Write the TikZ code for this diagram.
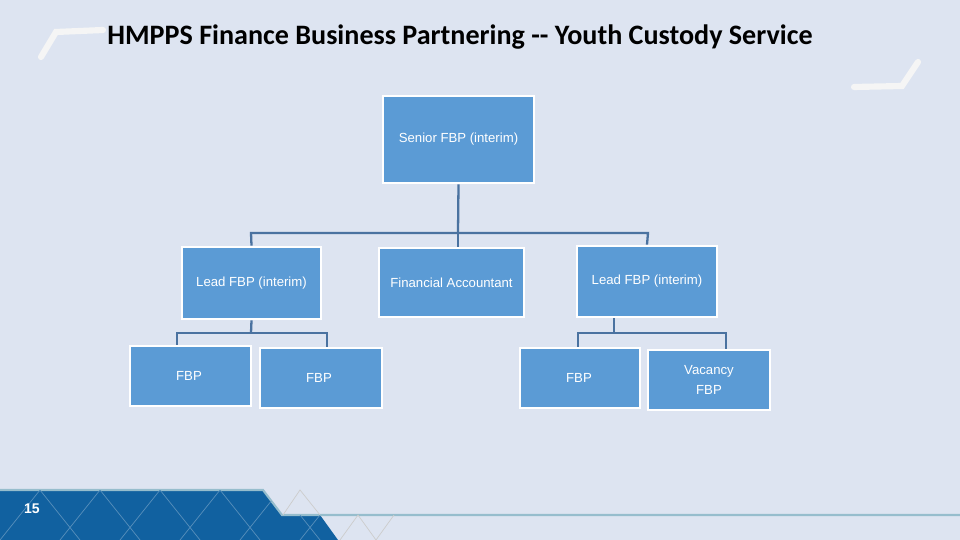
\documentclass[tikz,border=0pt]{standalone}
\usepackage{fontspec}
\setmainfont{Liberation Sans}
\newfontfamily\titlefont{Carlito}
\begin{document}
\begin{tikzpicture}[x=0.02cm,y=-0.02cm,
  box/.style={draw=white,line width=1.6pt,fill=boxblue,text=white,font=\fontsize{7.5}{9}\selectfont,inner sep=0pt},
  conn/.style={draw=lineblue,line width=1.3pt},
  deco/.style={draw=white!92!gray,line width=3.5pt,line cap=round}]
\definecolor{bg}{HTML}{DDE4F1}
\definecolor{boxblue}{HTML}{5B9BD5}
\definecolor{lineblue}{HTML}{4A72A0}
\definecolor{dark}{HTML}{1161A0}
\fill[bg] (0,0) rectangle (960,540);
\useasboundingbox (0,0) rectangle (960,540);
% bottom band
\fill[dark] (0,490) -- (263,490) -- (282,515) -- (320,515) -- (338,540) -- (0,540) -- cycle;
\draw[cyan!40!gray!70,line width=1.2pt] (0,490) -- (263,490) -- (282,515) -- (960,515);
\begin{scope}
\clip (0,490) -- (263,490) -- (282,515) -- (320,515) -- (338,540) -- (0,540) -- cycle;
\foreach \i in {0,60,...,300}{\draw[white!30!dark,line width=0.4pt] (\i,540) -- (\i+40,490) -- (\i+80,540);}
\end{scope}
\draw[gray!40,line width=0.4pt] (283,515) -- (300,490) -- (320,515);
\draw[gray!40,line width=0.4pt] (340,540) -- (358,515) -- (376,540) -- (394,515);
\node[text=white,font=\bfseries\fontsize{8}{9}\selectfont] (pg) at (32,509) {15};
% decorations
\draw[deco] (41,57) -- (56,32) -- (103,30);
\draw[deco] (854,87) -- (902,86) -- (918,62);
\node[font=\titlefont\bfseries\fontsize{16}{18}\selectfont] (title) at (460,37) {HMPPS Finance Business Partnering -- Youth Custody Service};
% boxes
\node[box,minimum width=151\pgflinewidth*0+3.02cm,minimum height=1.74cm] (s) at (458.5,139.5) {Senior FBP (interim)};
\node[box,minimum width=2.78cm,minimum height=1.44cm] (l1) at (251.5,283) {Lead FBP (interim)};
\node[box,minimum width=2.9cm,minimum height=1.38cm] (fa) at (451.5,282.5) {Financial Accountant};
\node[box,minimum width=2.8cm,minimum height=1.42cm] (l2) at (647,281.5) {Lead FBP (interim)};
\node[box,minimum width=2.42cm,minimum height=1.2cm] (f1) at (190.5,376) {};
\node[box,minimum width=2.44cm,minimum height=1.2cm] (f2) at (321,378) {};
\node[box,minimum width=2.4cm,minimum height=1.2cm] (f3) at (580,378) {};
\node[box,minimum width=2.44cm,minimum height=1.2cm,align=center] (f4) at (709,380) {Vacancy\\[2pt]FBP};
\node[text=white,font=\fontsize{7.5}{9}\selectfont] at ([xshift=-0.03cm]f1.center) {FBP};
\node[text=white,font=\fontsize{7.5}{9}\selectfont] at ([xshift=-0.04cm]f2.center) {FBP};
\node[text=white,font=\fontsize{7.5}{9}\selectfont] at ([xshift=-0.02cm]f3.center) {FBP};
% connectors
\coordinate (j0) at (458,233);
\draw[conn] (s.south) -- (j0);
\draw[conn] (l1.north) -- (251,233) -- (648,233) -- (l2.north);
\draw[conn] (j0) -- (fa.north -| j0);
\coordinate (j1) at (251,333);
\draw[conn] (l1.south) -- (j1);
\draw[conn] (f1.north -| 177,0) -- (177,333) -- (327,333) -- (f2.north -| 327,0);
\coordinate (j2) at (614,333);
\draw[conn] (l2.south -| j2) -- (j2);
\draw[conn] (f3.north -| 578,0) -- (578,333) -- (726,333) -- (f4.north -| 726,0);
\end{tikzpicture}
\end{document}
